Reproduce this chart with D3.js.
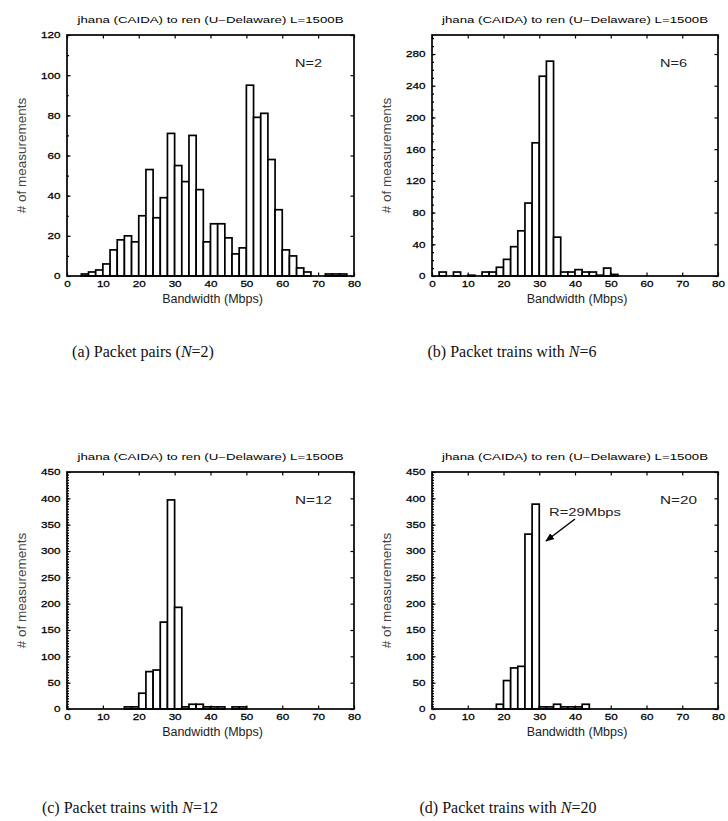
<!DOCTYPE html>
<html>
<head>
<meta charset="utf-8">
<script src="https://cdn.jsdelivr.net/npm/d3@7"></script>
<style>
  body { margin: 0; background: #fff; }
  svg { display: block; }
  .tick text { font-family: "Liberation Sans", Arial, sans-serif; fill: #000; stroke: #000; stroke-width: 0.25; }
  .tick line { stroke: #000; stroke-width: 1.2; }
  .domain { display: none; }
</style>
</head>
<body>
<div id="chart"></div>
<script>
"use strict";

// bin start (Mbps), bins are 2 Mbps wide
var bins = [0, 2, 4, 6, 8, 10, 12, 14, 16, 18, 20, 22, 24, 26, 28, 30, 32, 34, 36, 38,
            40, 42, 44, 46, 48, 50, 52, 54, 56, 58, 60, 62, 64, 66, 68, 70, 72, 74, 76, 78];

var countsN2 = [0, 0, 1, 2, 3, 6, 13, 18, 20, 17, 30, 53, 29, 39, 71, 55, 47, 70, 43, 17,
                26, 26, 19, 11, 14, 95, 79, 81, 58, 33, 13, 10, 4, 2, 0, 0, 1, 1, 1, 0];
var countsN6 = [0, 5, 0, 5, 0, 1, 0, 5, 5, 11, 21, 37, 57, 92, 168, 252, 271, 49, 5, 5,
                8, 5, 5, 1, 10, 2, 0, 0, 0, 0, 0, 0, 0, 0, 0, 0, 0, 0, 0, 0];
var countsN12 = [0, 0, 0, 0, 0, 0, 0, 0, 4, 4, 30, 71, 74, 165, 397, 193, 4, 9, 9, 4,
                 4, 4, 0, 4, 4, 0, 0, 0, 0, 0, 0, 0, 0, 0, 0, 0, 0, 0, 0, 0];
var countsN20 = [0, 0, 0, 0, 0, 0, 0, 0, 0, 9, 54, 78, 81, 332, 389, 4, 4, 9, 4, 4,
                 4, 9, 0, 0, 0, 0, 0, 0, 0, 0, 0, 0, 0, 0, 0, 0, 0, 0, 0, 0];

var xTicks = [0, 10, 20, 30, 40, 50, 60, 70, 80];
var yTicksN2 = [0, 20, 40, 60, 80, 100, 120];
var yTicksN6 = [0, 40, 80, 120, 160, 200, 240, 280];
var yTicksN12 = [0, 50, 100, 150, 200, 250, 300, 350, 400, 450];

var titleText = "jhana (CAIDA) to ren (U\u2212Delaware) L=1500B";
var xLabel = "Bandwidth (Mbps)";
var yLabel = "# of measurements";

var W = 728, H = 821;
var bw = 2;

var svg = d3.select("#chart").append("svg")
  .attr("width", W)
  .attr("height", H);

var panels = [
  { counts: countsN2, yTicks: yTicksN2, yMax: 120, minor: 10, x0: 67, x1: 354, y0: 35, y1: 276,
    n: "N=2", nWidth: 27, pre: "(a) Packet pairs (", post: "=2)", capX: 143, capY: 357 },
  { counts: countsN6, yTicks: yTicksN6, yMax: 304, minor: 10, x0: 432, x1: 718, y0: 35, y1: 276,
    n: "N=6", nWidth: 27, pre: "(b) Packet trains with ", post: "=6", capX: 512, capY: 357 },
  { counts: countsN12, yTicks: yTicksN12, yMax: 450, minor: 5, x0: 67, x1: 354, y0: 472, y1: 709,
    n: "N=12", nWidth: 37, pre: "(c) Packet trains with ", post: "=12", capX: 130, capY: 813 },
  { counts: countsN20, yTicks: yTicksN12, yMax: 450, minor: 5, x0: 432, x1: 718, y0: 472, y1: 709,
    n: "N=20", nWidth: 37, pre: "(d) Packet trains with ", post: "=20", capX: 508, capY: 813 }
];

panels.forEach(function(p, i) {
  drawPanel(p, i);
});

function drawPanel(p, idx) {
  var g = svg.append("g");

  var x = d3.scaleLinear().domain([0, 80]).range([p.x0, p.x1]);
  var y = d3.scaleLinear().domain([0, p.yMax]).range([p.y1, p.y0]);

  // minor y ticks (left side only)
  var minorVals = d3.range(0, p.yMax + 0.01, p.minor);
  g.append("g")
    .attr("transform", "translate(" + p.x0 + ",0)")
    .call(d3.axisLeft(y).tickValues(minorVals).tickSize(-2).tickFormat(""));

  // bottom axis with labels
  var gx = g.append("g")
    .attr("transform", "translate(0," + p.y1 + ")")
    .call(d3.axisBottom(x).tickValues(xTicks).tickSize(-3.5).tickPadding(5));
  gx.selectAll(".tick text")
    .attr("font-size", 9)
    .attr("transform", "scale(1.3,1)");

  g.append("g")
    .attr("transform", "translate(0," + p.y0 + ")")
    .call(d3.axisTop(x).tickValues(xTicks).tickSize(-3.5).tickFormat(""));

  var gy = g.append("g")
    .attr("transform", "translate(" + p.x0 + ",0)")
    .call(d3.axisLeft(y).tickValues(p.yTicks).tickSize(-3.5).tickPadding(5));
  gy.selectAll(".tick text")
    .attr("font-size", 9)
    .attr("transform", "scale(1.3,1)");

  g.append("g")
    .attr("transform", "translate(" + p.x1 + ",0)")
    .call(d3.axisRight(y).tickValues(p.yTicks).tickSize(-3.5).tickFormat(""));

  // bars
  var data = bins.map(function(b, i) { return { bin: b, count: p.counts[i] }; })
    .filter(function(d) { return d.count > 0; });

  g.append("g")
    .selectAll("rect")
    .data(data)
  .enter().append("rect")
    .attr("x", function(d) { return x(d.bin); })
    .attr("y", function(d) { return y(d.count); })
    .attr("width", function(d) { return x(d.bin + bw) - x(d.bin); })
    .attr("height", function(d) { return y(0) - y(d.count); })
    .attr("fill", "#fff")
    .attr("stroke", "#000")
    .attr("stroke-width", 1.7);

  // frame
  g.append("rect")
    .attr("x", p.x0)
    .attr("y", p.y0)
    .attr("width", p.x1 - p.x0)
    .attr("height", p.y1 - p.y0)
    .attr("fill", "none")
    .attr("stroke", "#000")
    .attr("stroke-width", 1.7);

  var cx = (p.x0 + p.x1) / 2;

  // title
  g.append("text")
    .attr("x", cx - 133)
    .attr("y", p.y0 - 12)
    .attr("font-family", "Liberation Sans, Arial, sans-serif")
    .attr("font-size", 8.5)
    .attr("textLength", 266)
    .attr("lengthAdjust", "spacingAndGlyphs")
    .text(titleText);

  // N label
  g.append("text")
    .attr("x", p.x0 + 228)
    .attr("y", p.y0 + 32)
    .attr("font-family", "Liberation Sans, Arial, sans-serif")
    .attr("font-size", 10.5)
    .attr("fill", "#222")
    .attr("textLength", p.nWidth)
    .attr("lengthAdjust", "spacingAndGlyphs")
    .text(p.n);

  // x label
  g.append("text")
    .attr("x", cx + 2)
    .attr("y", p.y1 + 27)
    .attr("text-anchor", "middle")
    .attr("font-family", "Liberation Sans, Arial, sans-serif")
    .attr("font-size", 12.5)
    .attr("fill", "#222")
    .text(xLabel);

  // y label
  var cy = (p.y0 + p.y1) / 2;
  g.append("text")
    .attr("transform", "translate(" + (p.x0 - 41) + "," + cy + ") rotate(-90)")
    .attr("text-anchor", "middle")
    .attr("font-family", "Liberation Sans, Arial, sans-serif")
    .attr("font-size", 13.5)
    .attr("fill", "#444")
    .text(yLabel);

  // caption
  var cap = g.append("text")
    .attr("x", p.capX)
    .attr("y", p.capY)
    .attr("text-anchor", "middle")
    .attr("font-family", "Liberation Serif, Times New Roman, serif")
    .attr("font-size", 16)
    .attr("fill", "#111");
  cap.append("tspan").text(p.pre);
  cap.append("tspan").attr("font-style", "italic").text("N");
  cap.append("tspan").text(p.post);

  if (idx === 3) {
    // annotation arrow
    var defs = svg.append("defs");
    defs.append("marker")
      .attr("id", "arrow")
      .attr("viewBox", "0 0 10 10")
      .attr("refX", 9)
      .attr("refY", 5)
      .attr("markerWidth", 6)
      .attr("markerHeight", 6)
      .attr("orient", "auto")
    .append("path")
      .attr("d", "M0,1 L10,5 L0,9 Z")
      .attr("fill", "#000");

    g.append("line")
      .attr("x1", 575)
      .attr("y1", 519)
      .attr("x2", 546)
      .attr("y2", 541)
      .attr("stroke", "#000")
      .attr("stroke-width", 1.5)
      .attr("marker-end", "url(#arrow)");

    g.append("text")
      .attr("x", 549)
      .attr("y", 516)
      .attr("font-family", "Liberation Sans, Arial, sans-serif")
      .attr("font-size", 10)
      .attr("fill", "#222")
      .attr("textLength", 72)
      .attr("lengthAdjust", "spacingAndGlyphs")
      .text("R=29Mbps");
  }
}
</script>
</body>
</html>
